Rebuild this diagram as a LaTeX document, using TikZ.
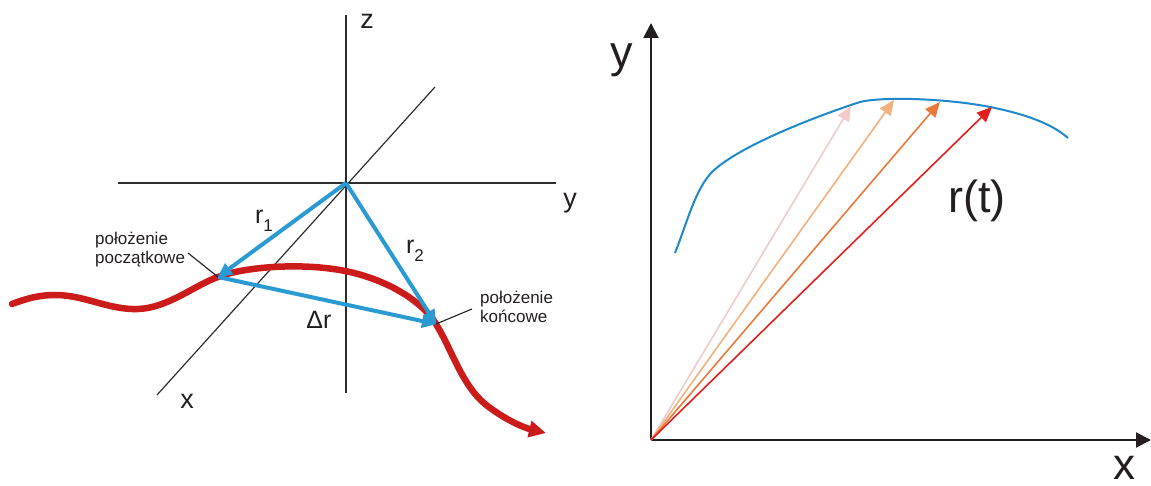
\documentclass[tikz,border=0pt]{standalone}
\usepackage{fontspec}
\setmainfont{Liberation Sans}
\usetikzlibrary{arrows.meta}
\definecolor{inkc}{HTML}{231F20}
\definecolor{axisc}{HTML}{2E2E2E}
\definecolor{vecblue}{HTML}{2A9BD2}
\definecolor{pathred}{HTML}{CC1B1B}
\definecolor{curveblue}{HTML}{1F88CC}
\definecolor{tpink}{HTML}{F2CACA}
\definecolor{tlorange}{HTML}{F2B07A}
\definecolor{torange}{HTML}{EA7838}
\definecolor{tred}{HTML}{E1201E}
\tikzset{
  axisline/.style={draw=axisc, line width=1.6pt},
  diagline/.style={draw=axisc, line width=1.2pt},
  bluevec/.style={draw=vecblue, line width=4pt, -{Triangle[length=15pt,width=13pt]}, shorten >=-1pt},
  redpath/.style={draw=pathred, line width=6.5pt, line cap=round, -{Triangle[length=17pt,width=16pt]}},
  leader/.style={draw=inkc, line width=1.1pt},
  biglabel/.style={text=inkc, inner sep=0pt, font=\fontsize{27}{30}\selectfont},
  veclabel/.style={text=inkc, inner sep=0pt, font=\fontsize{25}{28}\selectfont},
  smalllabel/.style={text=inkc, inner sep=0pt, align=left, anchor=north west, font=\fontsize{17}{19.5}\selectfont},
  huge label/.style={text=inkc, inner sep=0pt, font=\fontsize{45}{50}\selectfont},
  mainaxis/.style={draw=inkc, line width=2pt, -{Triangle[length=15pt,width=15pt]}},
  tvec/.style={line width=1.6pt, -{Triangle[length=15pt,width=13pt]}}
}
\newcommand{\mysub}[1]{\raisebox{-0.3em}{\fontsize{17}{17}\selectfont #1}}
\begin{document}
\begin{tikzpicture}[x=1pt,y=-1pt]
\useasboundingbox (0,0) rectangle (1151,486);
% ---------- left diagram ----------
\coordinate (O) at (346,183);
\coordinate (P1) at (218,277);
\coordinate (P2) at (436,324);
\coordinate (zTop) at (346,15);
\coordinate (zBot) at (346,393);
\coordinate (yL) at (118,183);
\coordinate (yR) at (556,183);
\coordinate (xTop) at (435,87);
\coordinate (xBot) at (157,395);
\path[axisline] (zTop) -- (zBot);
\path[axisline] (yL) -- (yR);
\path[diagline] (xTop) -- (xBot);
\node[biglabel] (zlab) at (367,21) {z};
\node[biglabel] (ylab) at (570,203) {y};
\node[biglabel] (xlab) at (187,401) {x};
% red trajectory
\coordinate (R0) at (12,304);
\coordinate (Rend) at (546,433);
\path[redpath] (R0) .. controls (28,298) and (40,295) .. (55,295)
  .. controls (85,295) and (108,310) .. (138,309)
  .. controls (168,308) and (195,285) .. (P1)
  .. controls (240,268) and (300,261) .. (350,272)
  .. controls (393,282) and (424,304) .. (P2)
  .. controls (452,350) and (462,385) .. (485,404)
  .. controls (505,420) and (525,428) .. (Rend);
% blue vectors
\path[bluevec] (O) -- (P1);
\path[bluevec] (O) -- (P2);
\path[bluevec] (P1) -- (P2);
\node[veclabel] (r1lab) at (264,221) {r\mysub{1}};
\node[veclabel] (r2lab) at (415,251) {r\mysub{2}};
\node[veclabel] (drlab) at (319,320) {Δr};
% position labels
\node[smalllabel] (startlab) at (95,231.5) {położenie\\początkowe};
\node[smalllabel] (endlab) at (480,290.5) {położenie\\końcowe};
\coordinate (lead1) at (188,253);
\coordinate (lead2) at (472,309);
\path[leader] (lead1) -- (P1);
\path[leader] (lead2) -- (P2);
% ---------- right diagram ----------
\coordinate (Q) at (651,440);
\coordinate (Ytip) at (651,23);
\coordinate (Xtip) at (1151,440);
\path[mainaxis] (Q) -- (Ytip);
\path[mainaxis] (Q) -- (Xtip);
\node[huge label] (Ylab) at (622,60) {y};
\node[huge label, font=\fontsize{44}{48}\selectfont] (Xlab) at (1124,468) {x};
\coordinate (c1) at (675,253);
\coordinate (c2) at (712,172);
\coordinate (c3) at (860,102);
\coordinate (c4) at (990,107);
\coordinate (c5) at (1068,138);
\path[draw=curveblue, line width=2pt] (c1) .. controls (688,220) and (695,190) .. (c2)
  .. controls (740,145) and (820,115) .. (c3)
  .. controls (885,96) and (950,99) .. (c4)
  .. controls (1020,113) and (1050,122) .. (c5);
\coordinate (t1) at (851,106);
\coordinate (t2) at (894,100);
\coordinate (t3) at (940,102);
\coordinate (t4) at (992,107);
\path[tvec, draw=tpink] (Q) -- (t1);
\path[tvec, draw=tlorange] (Q) -- (t2);
\path[tvec, draw=torange] (Q) -- (t3);
\path[tvec, draw=tred] (Q) -- (t4);
\node[huge label] (rtlab) at (977,201) {r(t)};
\end{tikzpicture}
\end{document}
